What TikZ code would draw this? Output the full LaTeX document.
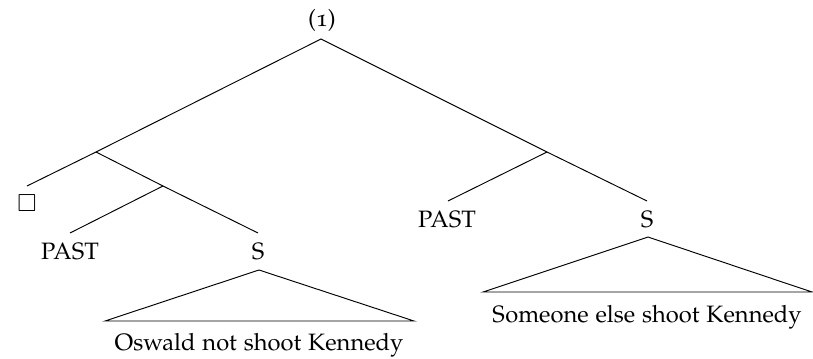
\documentclass[tikz,border=0pt]{standalone}
\usepackage[T1]{fontenc}
\usepackage[osf]{mathpazo}
\usepackage{amssymb}
\usepackage{tikz}
\usetikzlibrary{calc}

\begin{document}
\begin{tikzpicture}[x=0.422pt,y=-0.422pt]
\useasboundingbox (0,0) rectangle (813,359);

\node[anchor=base] (ex) at (322,27) {(1)};
\coordinate (root) at (321,39);

\coordinate (jL) at (96,152);
\coordinate (jLL) at (163,186);
\coordinate (jR) at (547,152);

\node (box) at (27,203.5) {$\square$};
\coordinate (boxtop) at (27,186);
\node[anchor=base] (pastL) at (70,259) {PAST};
\coordinate (pastLtop) at (70,233);
\node[anchor=base] (sL) at (258,259) {S};
\coordinate (sLtop) at (258,233);

\node[anchor=base] (pastR) at (447,227) {PAST};
\coordinate (pastRtop) at (448,201);
\node[anchor=base] (sR) at (647,227) {S};
\coordinate (sRtop) at (647,201);

\draw (boxtop) -- (jL) -- (root) -- (jR) -- (sRtop);
\draw (jL) -- (jLL) -- (sLtop);
\draw (jLL) -- (pastLtop);
\draw (jR) -- (pastRtop);

\coordinate (triLtop) at (259,270);
\coordinate (triLa) at (105,321);
\coordinate (triLb) at (414,321);
\draw (triLtop) -- (triLa) -- (triLb) -- cycle;
\node[anchor=base] (wordsL) at (259,350) {Oswald not shoot Kennedy};

\coordinate (triRtop) at (648,237);
\coordinate (triRa) at (483,292);
\coordinate (triRb) at (812,292);
\draw (triRtop) -- (triRa) -- (triRb) -- cycle;
\node[anchor=base] (wordsR) at (647,322) {Someone else shoot Kennedy};
\end{tikzpicture}
\end{document}
